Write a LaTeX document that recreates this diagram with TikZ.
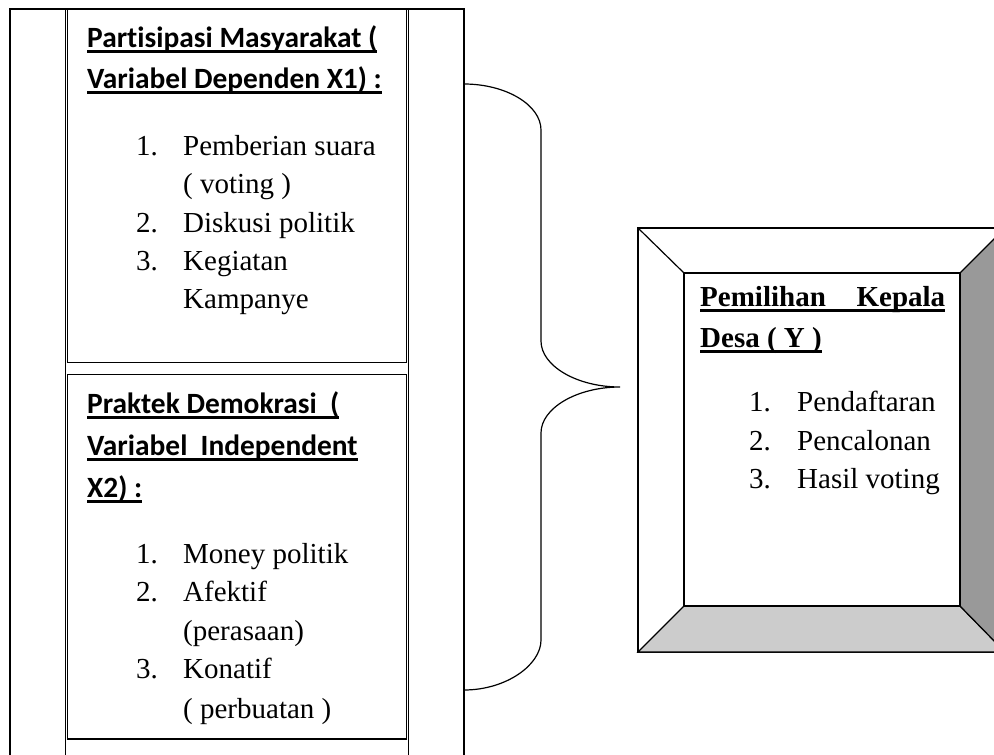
\documentclass[tikz,border=0pt]{standalone}
\usepackage{fontspec}
\setmainfont{Liberation Serif}
\newfontfamily\calibri[Ligatures=NoCommon]{Carlito}
\usepackage{xcolor}
\usetikzlibrary{calc}
\definecolor{abugelap}{RGB}{153,153,153}
\definecolor{aburang}{RGB}{204,204,204}
\newsavebox{\garisbox}
\newcommand{\garis}[1]{\sbox{\garisbox}{#1}\rlap{\rule[-5.5pt]{\wd\garisbox}{2.2pt}}\usebox{\garisbox}}

\begin{document}
\begin{tikzpicture}[x=1pt,y=-1pt]

		\useasboundingbox (0,0) rectangle (994,755);
		\clip (0,0) rectangle (994,755);
		\tikzset{judul/.style={font=\calibri\bfseries\fontsize{29.4}{35}\selectfont, anchor=base west, inner sep=0pt}}
		\tikzset{judulY/.style={font=\bfseries\fontsize{29}{35}\selectfont, anchor=base west, inner sep=0pt}}
		\tikzset{isi/.style={font=\fontsize{29}{35}\selectfont, anchor=base west, inner sep=0pt}}
		\tikzset{kotak/.style={draw, line width=1.6pt}}

    % tabel kiri
    \draw[line width=1.3pt] (10,9) rectangle (464,800);
    \draw[line width=1pt] (65.5,9) -- (65.5,800);
    \draw[line width=1pt] (408.5,9) -- (408.5,800);
    \draw[kotak, fill=white] (67.5,9) rectangle (406.5,362.5);
    \draw[kotak, fill=white] (67.5,374.5) rectangle (406.5,739);

    % X1
    \node[judul] (x1a) at (87,47) {\garis{Partisipasi Masyarakat (}};
    \node[judul] (x1b) at (87,88) {\garis{Variabel Dependen X1) :}};
    \foreach \nm/\y/\no/\teks in {a/155/1./Pemberian suara, b/193//( voting ), c/232/2./Diskusi politik, d/270/3./Kegiatan, e/308//Kampanye}{
      \node[isi] (nx1\nm) at (136,\y) {\no};
      \node[isi] (tx1\nm) at (183,\y) {\teks};
    }

    % X2
    \node[judul] (x2a) at (87,413) {\garis{Praktek Demokrasi\ \ (}};
    \node[judul] (x2b) at (87,455) {\garis{Variabel\ \ Independent}};
    \node[judul] (x2c) at (87,497) {\garis{X2) :}};
    \foreach \nm/\y/\no/\teks in {a/563/1./Money politik, b/601/2./Afektif, c/640//(perasaan), d/678/3./Konatif, e/718//( perbuatan )}{
      \node[isi] (nx2\nm) at (136,\y) {\no};
      \node[isi] (tx2\nm) at (183,\y) {\teks};
    }

    % kotak Y
    \coordinate (luarA) at (638,228);
    \coordinate (luarB) at (1005,652);
    \coordinate (dalamA) at (684,273);
    \coordinate (dalamB) at (960,606);
    \draw[line width=1.2pt, fill=white] (luarA) rectangle (luarB);
    \draw[line width=1.2pt, fill=aburang] (luarA |- luarB) -- (dalamA |- dalamB) -- (dalamB) -- (luarB) -- cycle;
    \draw[line width=1.2pt, fill=abugelap] (luarB |- luarA) -- (dalamB |- dalamA) -- (dalamB) -- (luarB) -- cycle;
    \draw[line width=1.2pt] (luarA) -- (dalamA);
    \draw[line width=1.2pt] (dalamA) rectangle (dalamB);

    \node[judulY] (ya) at (700,306) {\garis{\makebox[245pt][s]{Pemilihan Kepala}}};
    \node[judulY] (yb) at (700,347) {\garis{Desa ( Y )}};
    \foreach \nm/\y/\no/\teks in {a/411/1./Pendaftaran, b/450/2./Pencalonan, c/488/3./Hasil voting}{
      \node[isi] (ny\nm) at (749,\y) {\no};
      \node[isi] (ty\nm) at (797,\y) {\teks};
    }

    % kurung kurawal
    \coordinate (kA) at (464,84);
    \coordinate (kT) at (620,387);
    \coordinate (kB) at (464,690);
    \draw[line width=1.2pt] (kA) .. controls (506,84) and (541,105) .. (541,130) -- (541,341)
      .. controls (541,366) and (577,387) .. (kT)
      .. controls (577,387) and (541,408) .. (541,433) -- (541,640)
      .. controls (541,665) and (506,690) .. (kB);

		\end{tikzpicture}
\end{document}
